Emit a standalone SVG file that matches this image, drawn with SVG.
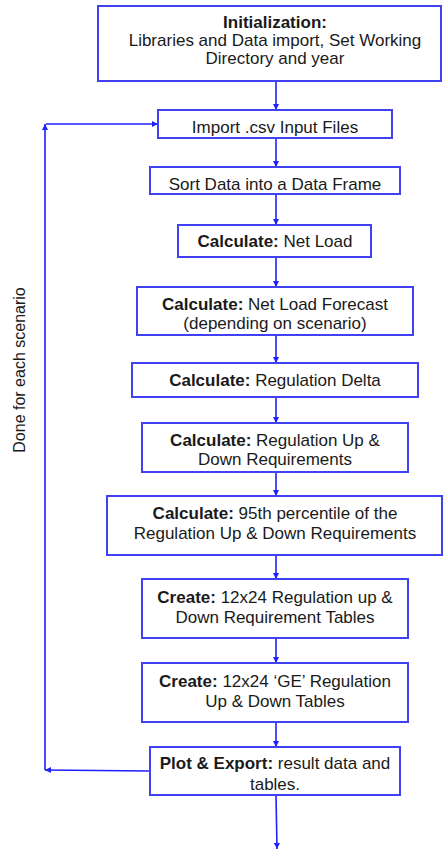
<svg xmlns="http://www.w3.org/2000/svg" width="443" height="851" viewBox="0 0 443 851">
<defs>
<marker id="ah" viewBox="0 0 10 10" refX="10" refY="5" markerWidth="6" markerHeight="6" markerUnits="userSpaceOnUse" orient="auto">
<path d="M0,0 L10,5 L0,10 z" fill="#1f1fff"/>
</marker>
<style>
.box{fill:#ffffff;stroke:#4040f5;stroke-width:2}
.t{font-family:"Liberation Sans",Arial,sans-serif;font-size:17px;fill:#1a1a1a;text-anchor:middle}
.b{font-weight:bold}
.c{fill:none;stroke:#1f1fff;stroke-width:1.6;marker-end:url(#ah)}
</style>
</defs>
<rect width="443" height="851" fill="#ffffff"/>
<g id="connectors">
<line class="c" x1="276" y1="81" x2="276" y2="110"/>
<line class="c" x1="276" y1="138" x2="276" y2="167"/>
<line class="c" x1="276" y1="194" x2="276" y2="225"/>
<line class="c" x1="276" y1="257" x2="276" y2="287"/>
<line class="c" x1="276" y1="335" x2="276" y2="363"/>
<line class="c" x1="276" y1="397" x2="276" y2="423"/>
<line class="c" x1="276" y1="472" x2="276" y2="496"/>
<line class="c" x1="276" y1="555" x2="276" y2="579"/>
<line class="c" x1="276" y1="638" x2="276" y2="663"/>
<line class="c" x1="276" y1="722" x2="276" y2="747"/>
<line class="c" x1="276" y1="795" x2="277" y2="849"/>
<line class="c" x1="150" y1="771" x2="45" y2="770"/>
<line class="c" x1="45" y1="770" x2="45" y2="124"/>
<line class="c" x1="46" y1="124" x2="158" y2="124"/>
</g>
<g id="loop-label">
<text class="t" font-size="16" style="font-size:16px" transform="translate(25,370) rotate(-90)">Done for each scenario</text>
</g>
<g id="n1">
<rect class="box" x="98" y="6" width="343" height="75"/>
<text class="t b" x="275" y="28">Initialization:</text>
<text class="t" x="275" y="46">Libraries and Data import, Set Working</text>
<text class="t" x="275" y="64">Directory and year</text>
</g>
<g id="n2">
<rect class="box" x="158" y="110" width="234" height="28"/>
<text class="t" x="275" y="133">Import .csv Input Files</text>
</g>
<g id="n3">
<rect class="box" x="150" y="167" width="250" height="27"/>
<text class="t" x="275" y="190">Sort Data into a Data Frame</text>
</g>
<g id="n4">
<rect class="box" x="178" y="225" width="193" height="32"/>
<text class="t" x="275" y="247"><tspan class="b">Calculate:</tspan> Net Load</text>
</g>
<g id="n5">
<rect class="box" x="137" y="287" width="276" height="48"/>
<text class="t" x="275" y="310"><tspan class="b">Calculate:</tspan> Net Load Forecast</text>
<text class="t" x="275" y="329">(depending on scenario)</text>
</g>
<g id="n6">
<rect class="box" x="132" y="363" width="286" height="34"/>
<text class="t" x="275" y="386"><tspan class="b">Calculate:</tspan> Regulation Delta</text>
</g>
<g id="n7">
<rect class="box" x="142" y="423" width="266" height="49"/>
<text class="t" x="275" y="446"><tspan class="b">Calculate:</tspan> Regulation Up &amp;</text>
<text class="t" x="275" y="465">Down Requirements</text>
</g>
<g id="n8">
<rect class="box" x="107" y="496" width="335" height="59"/>
<text class="t" x="275" y="519"><tspan class="b">Calculate:</tspan> 95th percentile of the</text>
<text class="t" x="275" y="539">Regulation Up &amp; Down Requirements</text>
</g>
<g id="n9">
<rect class="box" x="142" y="579" width="266" height="59"/>
<text class="t" x="275" y="603"><tspan class="b">Create:</tspan> 12x24 Regulation up &amp;</text>
<text class="t" x="275" y="623">Down Requirement Tables</text>
</g>
<g id="n10">
<rect class="box" x="142" y="663" width="266" height="59"/>
<text class="t" x="275" y="687"><tspan class="b">Create:</tspan> 12x24 ‘GE’ Regulation</text>
<text class="t" x="275" y="707">Up &amp; Down Tables</text>
</g>
<g id="n11">
<rect class="box" x="150" y="747" width="250" height="48"/>
<text class="t" x="275" y="769"><tspan class="b">Plot &amp; Export:</tspan> result data and</text>
<text class="t" x="275" y="790">tables.</text>
</g>
</svg>
